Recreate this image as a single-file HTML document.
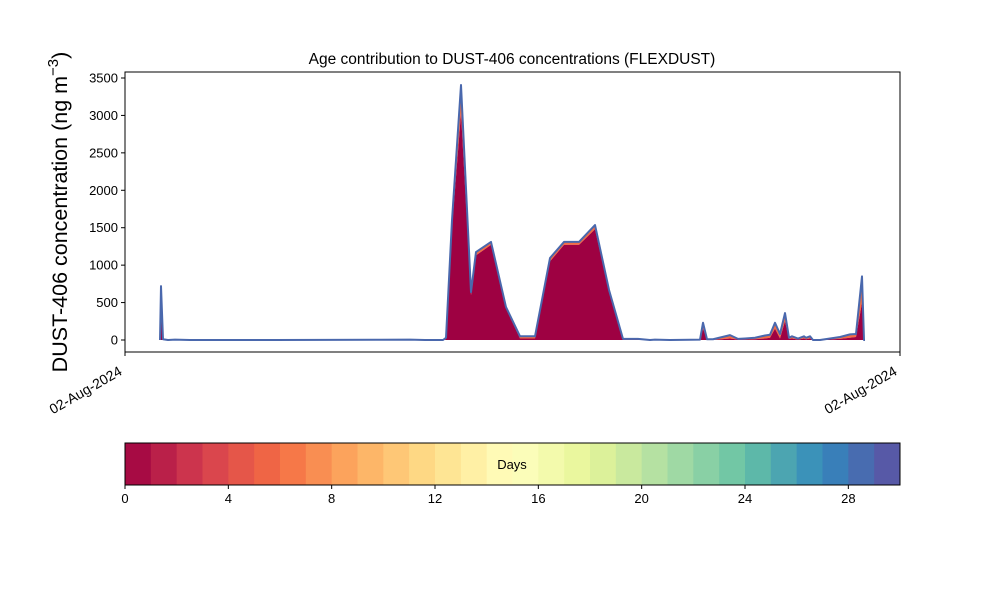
<!DOCTYPE html>
<html><head><meta charset="utf-8"><style>
body{margin:0;background:#fff;}
svg{font-family:"Liberation Sans","DejaVu Sans",sans-serif;}
</style></head><body>
<svg id="c" width="1000" height="600" viewBox="0 0 1000 600"></svg>
<script>
// x positions in timestep units (0..775 along the time axis), totals in ng m-3
const times=[35,36,38,43,50,65,150,250,285,300,315,318,321,327,336,346,351,366,381,395,410,425,439,454,470,484,498,513,525,530,545,575,578,582,588,605,613,620,630,640,645,650,655,660,664,667,673,679,681,685,688,692,695,715,725,731,737,739,740];
const dayZero=[0,430,8,0,3,0,0,0,2,0,0,0,10,1500,3030,600,1130,1270,420,20,20,1050,1270,1270,1480,650,5,5,0,0,0,0,150,5,0,20,5,5,10,20,30,150,20,250,15,20,5,20,10,20,0,0,0,15,30,40,500,0,0];
const dayOther=[0,290,2,0,2,0,0,3,3,0,0,0,20,100,376,40,45,40,20,30,30,45,40,40,56,20,10,10,0,5,0,5,80,5,10,45,10,15,20,40,40,80,60,110,15,30,15,30,20,30,0,0,0,25,45,40,350,0,0];
const yTicks=[0,500,1000,1500,2000,2500,3000,3500];
const cbTicks=[0,4,8,12,16,20,24,28];
const NS="http://www.w3.org/2000/svg";
const svg=document.getElementById('c');
const L=125,R=900,T=72,B=352;
const xs=t=>L+t;
const ys=v=>340-v*0.07486;
function mk(tag,a,p){const e=document.createElementNS(NS,tag);for(const k in a)e.setAttribute(k,a[k]);(p||svg).appendChild(e);return e;}
let base=times.map((t,i)=>[xs(t),ys(dayZero[i])]);
let tot=times.map((t,i)=>[xs(t),ys(dayZero[i]+dayOther[i])]);
const x0=xs(times[0]),x1=xs(times[times.length-1]);
let p1='M'+x0+','+ys(0)+' '+base.map(p=>'L'+p[0]+','+p[1]).join(' ')+' L'+x1+','+ys(0)+'Z';
let p2='M'+base.map(p=>p[0]+','+p[1]).join(' L')+' L'+tot.slice().reverse().map(p=>p[0]+','+p[1]).join(' L')+'Z';
let a2=mk('path',{d:p2,fill:'#f46d43'});


let a1=mk('path',{d:p1,fill:'#9e0142'});


let ln=mk('path',{d:'M'+tot.map(p=>p[0]+','+p[1]).join(' L'),fill:'none',stroke:'#4a68ad','stroke-width':2,'stroke-linejoin':'round'});


let fr=mk('rect',{x:L,y:T,width:R-L,height:B-T,fill:'none',stroke:'#000','stroke-width':1});


yTicks.forEach(v=>{const y=ys(v);
 mk('line',{x1:L-4,x2:L,y1:y,y2:y,stroke:'#000'});
 const t=mk('text',{x:L-7,y:y+4.5,'text-anchor':'end','font-size':13});t.textContent=v;
 
 });
[L,R].forEach(x=>{mk('line',{x1:x,x2:x,y1:B,y2:B+4,stroke:'#000'});
 const t=mk('text',{x:x-2,y:B+22,'text-anchor':'end','font-size':14,transform:`rotate(-30 ${x-2} ${B+22})`});t.textContent='02-Aug-2024';
 
 });
let ti=mk('text',{x:512,y:64,'text-anchor':'middle','font-size':15.5});ti.textContent='Age contribution to DUST-406 concentrations (FLEXDUST)';


let yl=mk('text',{x:67,y:212,'text-anchor':'middle','font-size':21.5,transform:'rotate(-90 67 212)'});
yl.innerHTML='DUST-406 concentration (ng m<tspan dy="-9" font-size="15">−3</tspan><tspan dy="9">)</tspan>';


const sp=['#9e0142','#d53e4f','#f46d43','#fdae61','#fee08b','#ffffbf','#e6f598','#abdda4','#66c2a5','#3288bd','#5e4fa2'];
function hx(h){return [1,3,5].map(i=>parseInt(h.substr(i,2),16));}
function cmap(f){const s=f*10,i=Math.min(9,Math.floor(s)),r=s-i,a=hx(sp[i]),b=hx(sp[i+1]);return 'rgb('+a.map((v,k)=>Math.round(v+(b[k]-v)*r)).join(',')+')';}
const cL=125,cR=900,cT=443,cB=485,w=(cR-cL)/30;
for(let i=0;i<30;i++){const r=mk('rect',{x:cL+i*w,y:cT,width:w+0.5,height:cB-cT,fill:cmap((i+0.5)/30)});
 
 }
let cf=mk('rect',{x:cL,y:cT,width:cR-cL,height:cB-cT,fill:'none',stroke:'#000'});


let cl=mk('text',{x:512,y:469,'text-anchor':'middle','font-size':13});cl.textContent='Days';


cbTicks.forEach(v=>{const x=cL+v*w;mk('line',{x1:x,x2:x,y1:cB,y2:cB+4,stroke:'#000'});
 const t=mk('text',{x:x,y:cB+18,'text-anchor':'middle','font-size':13});t.textContent=v;
 
 });
</script>
</body></html>
